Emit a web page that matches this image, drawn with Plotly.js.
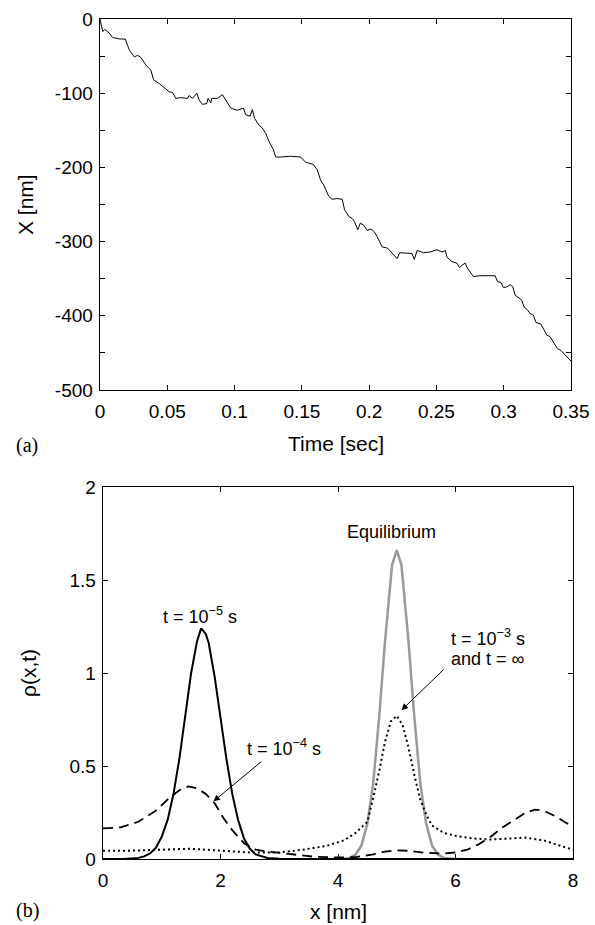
<!DOCTYPE html>
<html>
<head>
<meta charset="utf-8">
<script src="https://cdn.plot.ly/plotly-3.0.1.min.js"></script>
<style>
html,body{margin:0;padding:0;background:#fff;}
#chart{width:595px;height:925px;}
</style>
</head>
<body>
<div id="chart"></div>
<script>
// ---- Panel (a): trajectory ----
const timeSec = [0,0.001,0.002,0.0035,0.0052,0.0069,0.0094,0.0119,0.015,0.0188,0.0218,0.0255,0.028,0.0304,0.0341,0.0378,0.0398,0.044,0.0477,0.0514,0.0539,0.0563,0.06,0.065,0.0662,0.0687,0.072,0.0736,0.0761,0.0793,0.0803,0.0823,0.083,0.0873,0.091,0.0934,0.0971,0.1021,0.1066,0.1083,0.1115,0.1132,0.1149,0.1181,0.1206,0.1231,0.1256,0.1288,0.1305,0.1342,0.1416,0.149,0.1528,0.1585,0.1614,0.1639,0.1663,0.17,0.1725,0.176,0.18,0.1817,0.1849,0.1874,0.1891,0.1916,0.1935,0.196,0.1985,0.2015,0.2039,0.2059,0.2096,0.2138,0.217,0.2208,0.2227,0.2269,0.2318,0.2336,0.2356,0.2405,0.2454,0.2504,0.2541,0.2566,0.2578,0.2615,0.2652,0.2672,0.2689,0.2714,0.2731,0.2751,0.2775,0.2825,0.2875,0.2936,0.2954,0.2979,0.2998,0.3023,0.3048,0.3068,0.3085,0.3109,0.3134,0.3151,0.3176,0.3196,0.322,0.324,0.3275,0.33,0.332,0.3344,0.3374,0.3398,0.3426,0.345,0.348,0.35];
const positionNm = [0,-8,-17,-14,-16,-19,-25,-26,-27,-27,-42,-51,-49,-52,-62,-69,-82,-87,-93,-98,-99,-107,-106,-107,-103,-107,-100,-109,-115,-114,-107,-113,-107,-107,-102,-109,-120,-123,-120,-129,-131,-122,-134,-143,-147,-154,-165,-176,-186,-186,-185,-186,-193,-196,-203,-217,-224,-239,-243,-242,-243,-257,-266,-269,-273,-284,-275,-278,-285,-283,-287,-293,-307,-309,-315,-323,-315,-315,-316,-324,-312,-315,-314,-311,-314,-312,-321,-327,-329,-335,-332,-329,-336,-341,-347,-346,-346,-346,-354,-355,-362,-361,-358,-361,-372,-376,-379,-388,-392,-397,-399,-409,-411,-419,-426,-428,-437,-444,-447,-452,-458,-461];

const timeTickVals = [0,0.05,0.1,0.15,0.2,0.25,0.3,0.35];
const timeTickText = ['0','0.05','0.1','0.15','0.2','0.25','0.3','0.35'];
const posTickVals = [-500,-450,-400,-350,-300,-250,-200,-150,-100,-50,0];
const posTickText = ['-500','','-400','','-300','','-200','','-100','','0'];

// ---- Panel (b): probability densities ----
const xT5 = [0,0.4,0.6,0.7,0.8,0.9,1.0,1.1,1.2,1.3,1.4,1.5,1.6,1.67,1.75,1.8,1.9,2.0,2.1,2.2,2.3,2.4,2.5,2.6,2.8,3.0,3.5,4,5,6,7,8];
const rhoT5 = [0,0.001,0.006,0.014,0.03,0.06,0.12,0.21,0.35,0.54,0.77,1.0,1.17,1.24,1.21,1.16,0.98,0.76,0.54,0.35,0.21,0.11,0.055,0.025,0.005,0.001,0,0,0,0,0,0];

const xT4 = [0,0.3,0.6,0.9,1.1,1.3,1.45,1.6,1.75,1.9,2.05,2.2,2.4,2.6,2.8,3.0,3.3,3.6,4.0,4.3,4.6,4.8,5.0,5.2,5.5,5.8,6.0,6.2,6.4,6.6,6.8,7.0,7.2,7.35,7.5,7.7,7.85,8.0];
const rhoT4 = [0.165,0.17,0.2,0.26,0.32,0.37,0.39,0.38,0.35,0.30,0.22,0.155,0.085,0.05,0.04,0.032,0.02,0.012,0.008,0.01,0.025,0.04,0.047,0.044,0.033,0.03,0.035,0.05,0.08,0.12,0.17,0.21,0.25,0.265,0.26,0.23,0.2,0.175];

const xT3 = [0,0.5,1.0,1.5,2.0,2.5,3.0,3.4,3.8,4.1,4.3,4.5,4.6,4.7,4.8,4.9,5.0,5.1,5.2,5.3,5.4,5.5,5.6,5.8,6.0,6.3,6.6,6.9,7.2,7.5,7.8,8.0];
const rhoT3 = [0.045,0.045,0.05,0.055,0.045,0.035,0.035,0.05,0.07,0.1,0.14,0.2,0.33,0.47,0.63,0.74,0.77,0.72,0.6,0.45,0.32,0.24,0.18,0.14,0.125,0.11,0.105,0.11,0.115,0.1,0.07,0.05];

const xEq = [3.9,4.1,4.2,4.3,4.4,4.5,4.6,4.7,4.8,4.92,5.0,5.08,5.2,5.3,5.4,5.5,5.6,5.7,5.8,5.9,6.0,6.1];
const rhoEq = [0,0,0.006,0.024,0.073,0.19,0.41,0.76,1.17,1.58,1.66,1.58,1.17,0.76,0.41,0.19,0.073,0.024,0.006,0.001,0,0];

const xTickVals = [0,2,4,6,8];
const xTickText = ['0','2','4','6','8'];
const rhoTickVals = [0,0.5,1,1.5,2];
const rhoTickText = ['0','0.5','1','1.5','2'];

const FONT = 'Liberation Sans, Arial, sans-serif';
const SERIF = 'Liberation Serif, Times New Roman, serif';
const W = 595, H = 925;
function px(x){return x/W;}
function py(y){return 1 - y/H;}

const traces = [
  {x: timeSec, y: positionNm, xaxis:'x', yaxis:'y', mode:'lines', line:{color:'#000', width:1}, hoverinfo:'skip'},
  {x: xEq, y: rhoEq, xaxis:'x2', yaxis:'y2', mode:'lines', line:{color:'#999999', width:2.5}, hoverinfo:'skip'},
  {x: xT3, y: rhoT3, xaxis:'x2', yaxis:'y2', mode:'lines', line:{color:'#000', width:2, dash:'2px,3px'}, hoverinfo:'skip'},
  {x: xT4, y: rhoT4, xaxis:'x2', yaxis:'y2', mode:'lines', line:{color:'#000', width:1.8, dash:'10px,6px'}, hoverinfo:'skip'},
  {x: xT5, y: rhoT5, xaxis:'x2', yaxis:'y2', mode:'lines', line:{color:'#000', width:2}, hoverinfo:'skip'}
];

const axisCommon = {
  showline:true, linecolor:'#000', linewidth:1.3, mirror:'ticks',
  ticks:'inside', ticklen:5, tickwidth:1, tickcolor:'#000',
  showgrid:false, zeroline:false, tickmode:'array',
  tickfont:{family:FONT, size:19, color:'#000'}, fixedrange:true
};

const layout = {
  width: W, height: H,
  margin:{l:0,r:0,t:0,b:0},
  paper_bgcolor:'#fff', plot_bgcolor:'#fff',
  showlegend:false,
  xaxis: Object.assign({}, axisCommon, {domain:[px(100), px(571)], range:[0,0.35], tickvals:timeTickVals, ticktext:timeTickText, anchor:'y', ticklabelstandoff:4}),
  yaxis: Object.assign({}, axisCommon, {domain:[py(390), py(19)], range:[-500,0], tickvals:posTickVals, ticktext:posTickText, anchor:'x', ticklabelstandoff:2}),
  xaxis2: Object.assign({}, axisCommon, {domain:[px(103), px(573)], range:[0,8], tickvals:xTickVals, ticktext:xTickText, anchor:'y2', ticklabelstandoff:4}),
  yaxis2: Object.assign({}, axisCommon, {domain:[py(859), py(487)], range:[0,2], tickvals:rhoTickVals, ticktext:rhoTickText, anchor:'x2', ticklabelstandoff:2}),
  annotations: [
    {xref:'paper', yref:'paper', x:px(336), y:py(443), text:'Time [sec]', showarrow:false, font:{family:FONT, size:21, color:'#000'}, xanchor:'center', yanchor:'middle'},
    {xref:'paper', yref:'paper', x:px(26), y:py(205), text:'X [nm]', textangle:-90, showarrow:false, font:{family:FONT, size:21, color:'#000'}, xanchor:'center', yanchor:'middle'},
    {xref:'paper', yref:'paper', x:px(27), y:py(445), text:'(a)', showarrow:false, font:{family:SERIF, size:20, color:'#000'}, xanchor:'center', yanchor:'middle'},
    {xref:'paper', yref:'paper', x:px(338), y:py(911), text:'x [nm]', showarrow:false, font:{family:FONT, size:21, color:'#000'}, xanchor:'center', yanchor:'middle'},
    {xref:'paper', yref:'paper', x:px(28), y:py(673), text:'ρ(x,t)', textangle:-90, showarrow:false, font:{family:FONT, size:21, color:'#000'}, xanchor:'center', yanchor:'middle'},
    {xref:'paper', yref:'paper', x:px(27), y:py(910), text:'(b)', showarrow:false, font:{family:SERIF, size:20, color:'#000'}, xanchor:'center', yanchor:'middle'},
    {xref:'x2', yref:'y2', x:4.91, y:1.76, text:'Equilibrium', showarrow:false, font:{family:FONT, size:18, color:'#000'}, xanchor:'center', yanchor:'middle'},
    {xref:'x2', yref:'y2', x:1.65, y:1.31, text:'t = 10<sup>−5</sup> s', showarrow:false, font:{family:FONT, size:18, color:'#000'}, xanchor:'center', yanchor:'middle'},
    {xref:'x2', yref:'y2', x:3.08, y:0.60, text:'t = 10<sup>−4</sup> s', showarrow:false, font:{family:FONT, size:18, color:'#000'}, xanchor:'center', yanchor:'middle'},
    {xref:'x2', yref:'y2', x:6.55, y:1.19, text:'t = 10<sup>−3</sup> s', showarrow:false, font:{family:FONT, size:18, color:'#000'}, xanchor:'center', yanchor:'middle'},
    {xref:'x2', yref:'y2', x:6.55, y:1.075, text:'and t = ∞', showarrow:false, font:{family:FONT, size:18, color:'#000'}, xanchor:'center', yanchor:'middle'},
    {xref:'x2', yref:'y2', x:1.88, y:0.31, ax:2.72, ay:0.53, axref:'x2', ayref:'y2', text:'', showarrow:true, arrowhead:2, arrowsize:1.3, arrowwidth:1, arrowcolor:'#000', standoff:0, startstandoff:0},
    {xref:'x2', yref:'y2', x:5.08, y:0.80, ax:5.82, ay:1.025, axref:'x2', ayref:'y2', text:'', showarrow:true, arrowhead:2, arrowsize:1.3, arrowwidth:1, arrowcolor:'#000', standoff:0, startstandoff:0}
  ]
};

Plotly.newPlot('chart', traces, layout, {staticPlot:true, displayModeBar:false});
</script>
</body>
</html>
